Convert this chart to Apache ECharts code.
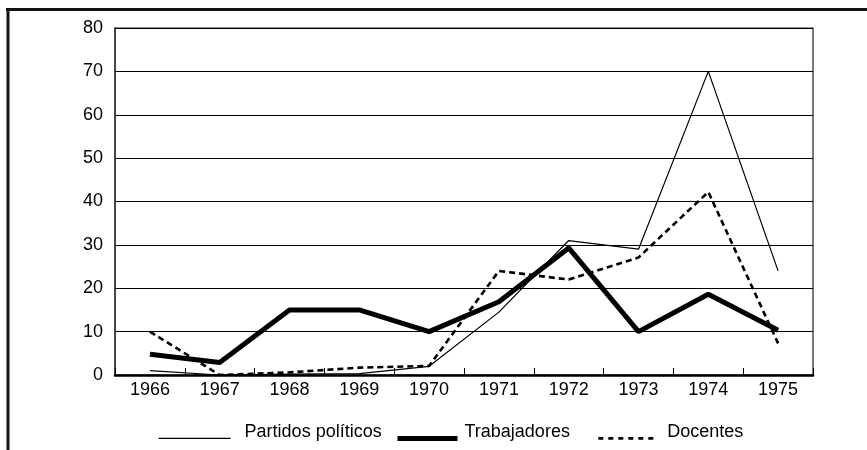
<!DOCTYPE html>
<html><head><meta charset="utf-8">
<script src="https://cdn.jsdelivr.net/npm/echarts@6/dist/echarts.min.js"></script>
<style>html,body{margin:0;padding:0;background:#fff;}#c{width:867px;height:450px;}</style>
</head><body><div id="c"></div>
<script>
const years = ['1966','1967','1968','1969','1970','1971','1972','1973','1974','1975'];
const partidos = [1, 0, 0.2, 0.3, 2, 14.5, 31, 29, 70, 24];
const trabajadores = [4.8, 2.9, 15, 15, 10, 16.9, 29.3, 10, 18.6, 10.3];
const docentes = [10, 0, 0.6, 1.7, 2.1, 24, 22, 27.1, 42.2, 7.3];
const yTicks = [0, 10, 20, 30, 40, 50, 60, 70, 80];

const FONT = 'Liberation Sans, Arial, Helvetica, sans-serif';
const chart = echarts.init(document.getElementById('c'));
function legendOf(name, left, width, gap, lineStyle) {
  return {data: [name], left: left, itemWidth: width, bottom: 6, padding: 0, itemHeight: 14, itemGap: 0,
    formatter: '{t|{name}}',
    textStyle: {fontFamily: FONT, fontSize: 18, color: '#000',
      rich: {t: {fontFamily: FONT, fontSize: 18, color: '#000', padding: [0, 0, 13, gap]}}},
    selectedMode: false,
    itemStyle: {opacity: 0, borderWidth: 0}, lineStyle: lineStyle};
}
chart.setOption({
  animation: false,
  backgroundColor: '#fff',
  grid: {left: 115, right: 54, top: 28, bottom: 75, show: true, borderColor: '#222', borderWidth: 1.2, backgroundColor: 'transparent'},
  xAxis: {
    type: 'category', data: years, boundaryGap: true,
    axisLine: {lineStyle: {color: '#000', width: 2.5}},
    axisTick: {show: true, inside: true, length: 7, interval: 0, lineStyle: {color: '#000', width: 1}},
    axisLabel: {fontFamily: FONT, fontSize: 18, color: '#000', margin: 6, interval: 0}
  },
  yAxis: {
    type: 'value', min: yTicks[0], max: yTicks[yTicks.length - 1], interval: 10,
    axisLine: {show: true, lineStyle: {color: '#333', width: 1.5}},
    axisTick: {show: false},
    axisLabel: {fontFamily: FONT, fontSize: 18, color: '#000', margin: 12},
    splitLine: {show: true, lineStyle: {color: '#000', width: 1}}
  },
  legend: [
    legendOf('Partidos políticos', 158, 72, 9, {width: 1.2, color: '#000'}),
    legendOf('Trabajadores', 395, 60, 2, {width: 5, color: '#000'}),
    legendOf('Docentes', 597, 57, 7, {width: 2.6, color: '#000', type: [5, 5]})
  ],
  series: [
    {name: 'Partidos políticos', type: 'line', data: partidos, symbol: 'none', lineStyle: {color: '#000', width: 1.2}, itemStyle: {color: '#000'}},
    {name: 'Trabajadores', type: 'line', data: trabajadores, symbol: 'none', lineStyle: {color: '#000', width: 5}, itemStyle: {color: '#000'}},
    {name: 'Docentes', type: 'line', data: docentes, symbol: 'none', lineStyle: {color: '#000', width: 2.6, type: [6, 4]}, itemStyle: {color: '#000'}}
  ],
  graphic: [
    {type: 'line', shape: {x1: 6, y1: 9.5, x2: 867, y2: 9.5}, style: {stroke: '#111', lineWidth: 3}},
    {type: 'line', shape: {x1: 8, y1: 8, x2: 8, y2: 450}, style: {stroke: '#111', lineWidth: 3}}
  ]
});
</script></body></html>
